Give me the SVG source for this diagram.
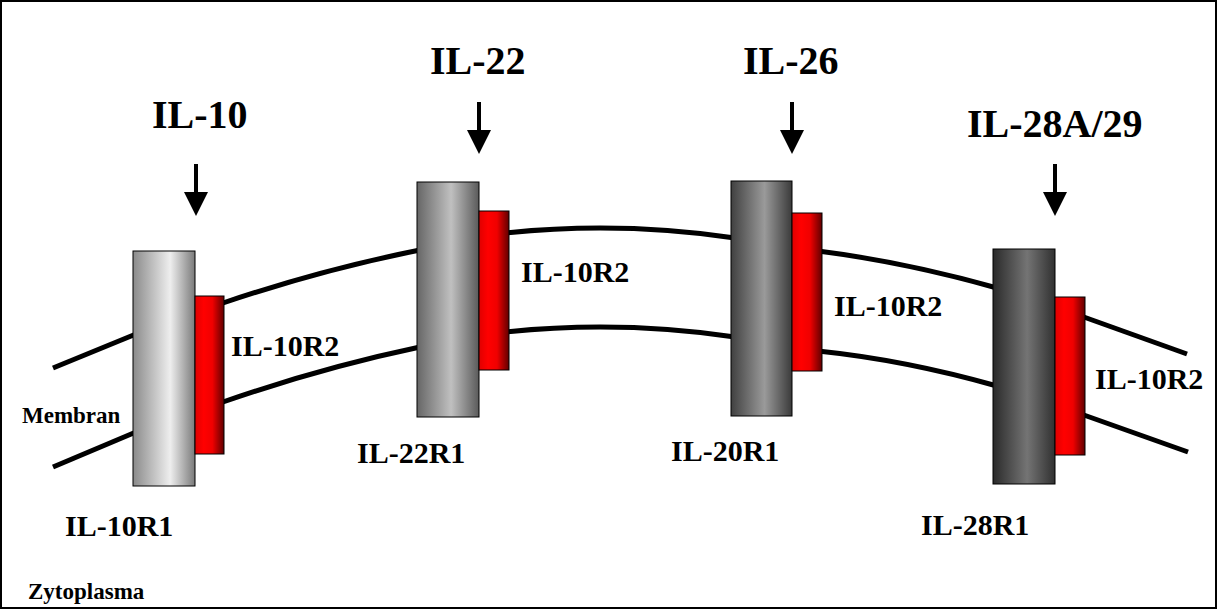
<svg xmlns="http://www.w3.org/2000/svg" width="1218" height="610" viewBox="0 0 1218 610">
<style>
text{font-family:"Liberation Serif","Times New Roman",serif;font-weight:bold;fill:#000}
.big{font-size:40px}
.lbl{font-size:30px}
.sm{font-size:23px}
.mem{fill:none;stroke:#000;stroke-width:5}
.arr{stroke:#000;stroke-width:4;marker-end:url(#ah)}
.cyl{stroke:#000;stroke-width:1}
.r2{fill:url(#gr);stroke:#000;stroke-width:1}
</style>
<defs>
<marker id="ah" markerUnits="userSpaceOnUse" markerWidth="24" markerHeight="24" viewBox="0 0 24 24" refX="8" refY="12" orient="auto">
<path d="M0,0 L24,12 L0,24 Z" fill="#000"/>
</marker>
<linearGradient id="g1" x1="0" x2="1" y1="0" y2="0">
<stop offset="0" stop-color="#8a8a8a"/><stop offset="0.6" stop-color="#eeeeee"/><stop offset="1" stop-color="#7a7a7a"/>
</linearGradient>
<linearGradient id="g2" x1="0" x2="1" y1="0" y2="0">
<stop offset="0" stop-color="#666"/><stop offset="0.55" stop-color="#c0c0c0"/><stop offset="1" stop-color="#5a5a5a"/>
</linearGradient>
<linearGradient id="g3" x1="0" x2="1" y1="0" y2="0">
<stop offset="0" stop-color="#404040"/><stop offset="0.55" stop-color="#9a9a9a"/><stop offset="1" stop-color="#3a3a3a"/>
</linearGradient>
<linearGradient id="g4" x1="0" x2="1" y1="0" y2="0">
<stop offset="0" stop-color="#2a2a2a"/><stop offset="0.55" stop-color="#747474"/><stop offset="1" stop-color="#303030"/>
</linearGradient>
<linearGradient id="gr" x1="0" x2="1" y1="0" y2="0">
<stop offset="0" stop-color="#e00000"/><stop offset="0.3" stop-color="#ff0000"/><stop offset="0.6" stop-color="#f00000"/><stop offset="1" stop-color="#600000"/>
</linearGradient>
</defs>
<rect x="1" y="1" width="1215" height="607" fill="#fff" stroke="#000" stroke-width="2"/>
<g id="membrane">
<path class="mem" d="M53,368 L136,334"/>
<path class="mem" d="M220,304 Q320,270 420,250"/>
<path class="mem" d="M505,233 Q620,221 735,238"/>
<path class="mem" d="M818,251 Q905,262 997,288"/>
<path class="mem" d="M1081,316 L1187,354"/>
<path class="mem" d="M53,467 L136,432"/>
<path class="mem" d="M220,403 Q320,368 420,347"/>
<path class="mem" d="M505,332 Q620,320 735,337"/>
<path class="mem" d="M818,351 Q905,360 997,386"/>
<path class="mem" d="M1081,414 L1188,452"/>
</g>
<g id="connectors">
<line class="arr" x1="196" y1="164" x2="196" y2="200"/>
<line class="arr" x1="479" y1="102" x2="479" y2="138"/>
<line class="arr" x1="792" y1="102" x2="792" y2="138"/>
<line class="arr" x1="1055" y1="164" x2="1055" y2="200"/>
</g>
<g id="il10">
<text class="big" x="152" y="128">IL-10</text>
<rect class="cyl" x="133" y="251" width="62" height="235" fill="url(#g1)"/>
<rect class="r2" x="195" y="296" width="29" height="158"/>
<text class="lbl" x="231" y="356">IL-10R2</text>
<text class="lbl" x="65" y="536">IL-10R1</text>
</g>
<g id="il22">
<text class="big" x="430" y="74">IL-22</text>
<rect class="cyl" x="417" y="182" width="62" height="235" fill="url(#g2)"/>
<rect class="r2" x="479" y="211" width="30" height="159"/>
<text class="lbl" x="521" y="282">IL-10R2</text>
<text class="lbl" x="357" y="463">IL-22R1</text>
</g>
<g id="il26">
<text class="big" x="743" y="74">IL-26</text>
<rect class="cyl" x="731" y="181" width="61" height="235" fill="url(#g3)"/>
<rect class="r2" x="792" y="213" width="30" height="158"/>
<text class="lbl" x="834" y="316">IL-10R2</text>
<text class="lbl" x="671" y="461">IL-20R1</text>
</g>
<g id="il28">
<text class="big" x="967" y="137">IL-28A/29</text>
<rect class="cyl" x="993" y="249" width="62" height="235" fill="url(#g4)"/>
<rect class="r2" x="1055" y="297" width="30" height="158"/>
<text class="lbl" x="1095" y="389">IL-10R2</text>
<text class="lbl" x="921" y="535">IL-28R1</text>
</g>
<g id="labels">
<text class="sm" x="22" y="423">Membran</text>
<text class="sm" x="28" y="599">Zytoplasma</text>
</g>
</svg>
